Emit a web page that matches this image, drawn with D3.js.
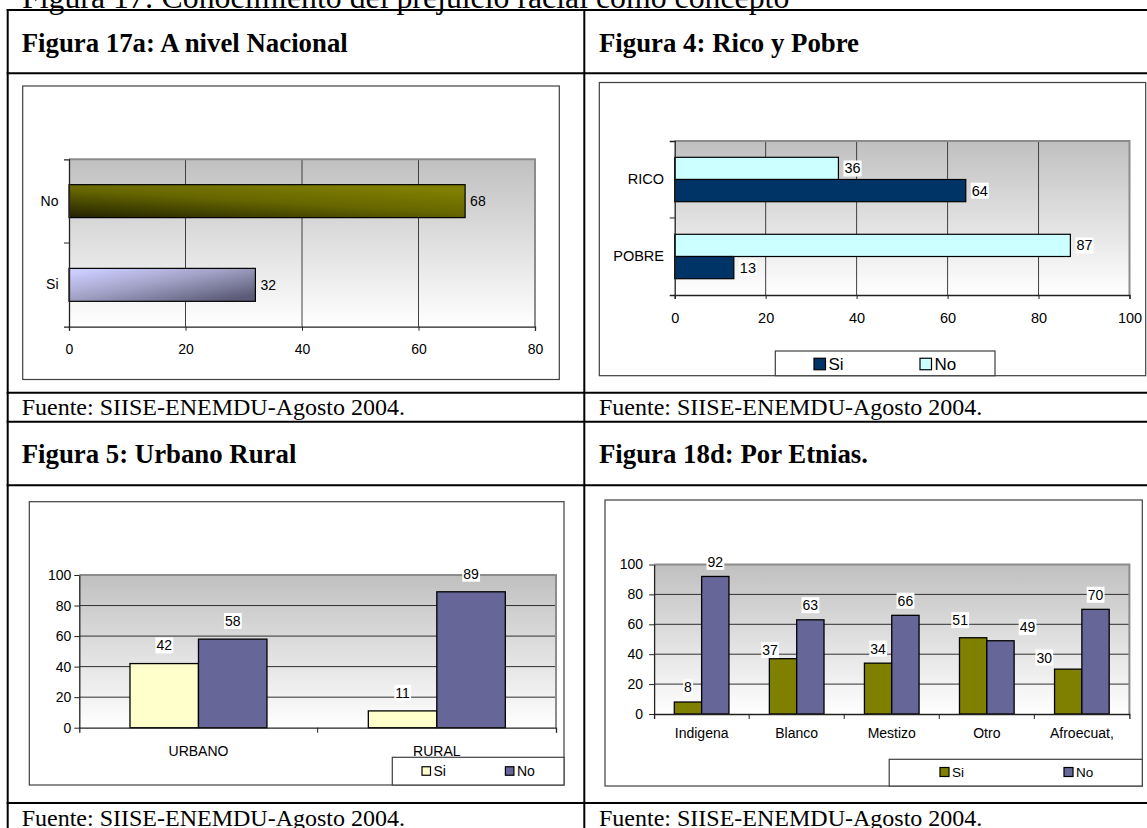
<!DOCTYPE html>
<html>
<head>
<meta charset="utf-8">
<script src="https://cdn.jsdelivr.net/npm/d3@7"></script>
<style>
  body { margin: 0; background: #fff; }
  svg { display: block; }
</style>
</head>
<body>
<svg id="page" width="1147" height="828"></svg>
<script>
// Data ----------------------------------------
const pageTitle = "Figura 17: Conocimiento del prejuicio racial como concepto";
const panelTitles = ["Figura 17a: A nivel Nacional", "Figura 4: Rico y Pobre", "Figura 5: Urbano Rural", "Figura 18d: Por Etnias."];
const sourceNote = "Fuente: SIISE-ENEMDU-Agosto 2004.";
const seriesNames = ["Si", "No"];

// Figura 17a
const nacionalCats = ["No", "Si"];
const nacionalVals = [68, 32];
const nacionalTicks = [0, 20, 40, 60, 80];

// Figura 4
const ricoCats = ["RICO", "POBRE"];
const ricoSi = [64, 13];
const ricoNo = [36, 87];

// Figura 5
const areaCats = ["URBANO", "RURAL"];
const areaSi = [42, 11];
const areaNo = [58, 89];

// Figura 18d
const etniaCats = ["Indigena", "Blanco", "Mestizo", "Otro", "Afroecuat,"];
const etniaSi = [8, 37, 34, 51, 30];
const etniaNo = [92, 63, 66, 49, 70];

const pctTicks = [0, 20, 40, 60, 80, 100];

const SANS = "'Liberation Sans', Arial, sans-serif";
const SERIF = "'Liberation Serif', 'Times New Roman', serif";

const svg = d3.select("#page");
svg.append("rect").attr("width", 1147).attr("height", 828).attr("fill", "#fff");

// Gradients ----------------------------------------
const defs = svg.append("defs");
function gradient(id, x1, y1, x2, y2, stops) {
    const gr = defs.append("linearGradient").attr("id", id)
        .attr("x1", x1).attr("y1", y1).attr("x2", x2).attr("y2", y2);
    stops.forEach(s => gr.append("stop").attr("offset", s[0]).attr("stop-color", s[1]));
}
gradient("plotBg", 0, 0, 0, 1, [[0, "#c0c0c0"], [1, "#ffffff"]]);
gradient("gradNo", 0, 1, 0.75, 0, [[0, "#222200"], [0.55, "#666600"], [1, "#808000"]]);
gradient("gradSi", 0.15, 0, 1, 0.8, [[0, "#ccccff"], [0.45, "#a2a2c6"], [1, "#5c5c78"]]);

// Table ----------------------------------------
const hLines = [10, 73.3, 392.7, 421.7, 485.3, 803];
const vLines = [7.7, 584.3];
hLines.forEach(y => {
    svg.append("line").attr("x1", 6.7).attr("x2", 1150).attr("y1", y).attr("y2", y)
        .attr("stroke", "#000").attr("stroke-width", 2);
});
vLines.forEach(x => {
    svg.append("line").attr("x1", x).attr("x2", x).attr("y1", 9).attr("y2", 830)
        .attr("stroke", "#000").attr("stroke-width", 2);
});

svg.append("text").attr("x", 22).attr("y", 7.5).text(pageTitle)
    .attr("font-family", SERIF).attr("font-size", "31.8px");

const colX = [21.7, 599];
[[52.3, 0], [463, 2]].forEach(([y, k]) => {
    colX.forEach((x, j) => {
        svg.append("text").attr("x", x).attr("y", y).text(panelTitles[k + j])
            .attr("font-family", SERIF).attr("font-size", "26.8px").attr("font-weight", "bold");
    });
});
[415, 825.5].forEach(y => {
    colX.forEach(x => {
        svg.append("text").attr("x", x).attr("y", y).text(sourceNote)
            .attr("font-family", SERIF).attr("font-size", "24px");
    });
});

// Helpers ----------------------------------------
function frame(box) {
    svg.append("rect").attr("x", box[0]).attr("y", box[1])
        .attr("width", box[2] - box[0]).attr("height", box[3] - box[1])
        .attr("fill", "#fff").attr("stroke", "#404040").attr("stroke-width", 1.2);
}

function plotBack(g, x0, x1, y0, y1) {
    g.append("rect").attr("x", x0).attr("y", y0).attr("width", x1 - x0).attr("height", y1 - y0)
        .attr("fill", "url(#plotBg)");
}

function styleAxis(sel, fs) {
    sel.attr("font-size", null).attr("font-family", null);
    sel.selectAll("text").attr("font-size", fs + "px").attr("font-family", SANS).attr("fill", "#000");
    sel.select(".domain").attr("stroke", "#222").attr("stroke-width", 1.3);
    sel.selectAll(".tick line").attr("stroke", "#222");
}

function valueLabel(g, x, y, txt, fs, anchor, boxed) {
    const t = g.append("text").attr("x", x).attr("y", y).attr("dy", "0.35em")
        .attr("text-anchor", anchor).attr("font-family", SANS).attr("font-size", fs + "px").text(txt);
    if (boxed) {
        const b = t.node().getBBox();
        g.insert("rect", () => t.node()).attr("x", b.x - 1).attr("y", b.y)
            .attr("width", b.width + 2).attr("height", b.height).attr("fill", "#fff");
    }
}

function legend(box, items, fs, sq, cy) {
    svg.append("rect").attr("x", box[0]).attr("y", box[1])
        .attr("width", box[2] - box[0]).attr("height", box[3] - box[1])
        .attr("fill", "#fff").attr("stroke", "#404040").attr("stroke-width", 1.2);
    items.forEach(it => {
        svg.append("rect").attr("x", it.x).attr("y", cy - sq / 2).attr("width", sq).attr("height", sq)
            .attr("fill", it.fill).attr("stroke", "#000").attr("stroke-width", 1.2);
        svg.append("text").attr("x", it.x + sq + 3).attr("y", cy).attr("dy", "0.35em")
            .attr("font-family", SANS).attr("font-size", fs + "px").text(it.name);
    });
}

// Horizontal bar chart ----------------------------------------
function drawHBars(cfg) {
    frame(cfg.box);
    const g = svg.append("g");
    const [px0, px1, py0, py1] = cfg.plot;
    const maxT = d3.max(cfg.ticks);
    const x = d3.scaleLinear().domain([0, maxT]).range([px0, px1]);
    const y = d3.scaleBand().domain(cfg.cats).range([py0, py1]);
    const sub = d3.scaleBand().domain(cfg.series.map(s => s.name)).range([0, y.bandwidth()]).paddingOuter(cfg.outer);

    plotBack(g, px0, px1, py0, py1);
    g.selectAll(null).data(cfg.ticks.filter(t => t > 0 && t < maxT)).enter().append("line")
        .attr("x1", d => x(d)).attr("x2", d => x(d)).attr("y1", py0).attr("y2", py1)
        .attr("stroke", "#404040");
    g.append("path").attr("d", `M${px0},${py0}H${px1}V${py1}`)
        .attr("fill", "none").attr("stroke", "#8c8c8c").attr("stroke-width", 2);

    cfg.series.forEach(s => {
        g.selectAll(null).data(cfg.cats.map((c, i) => ({ cat: c, v: s.values[i] }))).enter().append("rect")
            .attr("x", x(0)).attr("y", d => y(d.cat) + sub(s.name))
            .attr("width", d => x(d.v) - x(0)).attr("height", sub.bandwidth())
            .attr("fill", d => s.fill(d.cat)).attr("stroke", "#000").attr("stroke-width", 1.2);
    });

    const xa = g.append("g").attr("transform", `translate(0,${py1})`)
        .call(d3.axisBottom(x).tickValues(cfg.ticks).tickSize(4).tickSizeOuter(4).tickPadding(cfg.xPad));
    const ya = g.append("g").attr("transform", `translate(${px0},0)`)
        .call(d3.axisLeft(y).tickSize(0).tickSizeOuter(5).tickPadding(cfg.yPad));
    styleAxis(xa, cfg.fs);
    styleAxis(ya, cfg.fs);
    g.selectAll(null).data(cfg.cats.slice(1)).enter().append("line")
        .attr("x1", px0 - 5).attr("x2", px0).attr("y1", d => y(d)).attr("y2", d => y(d))
        .attr("stroke", "#222");

    cfg.series.forEach(s => {
        cfg.cats.forEach((c, i) => {
            valueLabel(g, x(s.values[i]) + cfg.labelGap, y(c) + sub(s.name) + sub.bandwidth() / 2,
                s.values[i], cfg.fs, "start", cfg.boxed);
        });
    });
}

// Vertical bar chart ----------------------------------------
function drawVBars(cfg) {
    frame(cfg.box);
    const g = svg.append("g");
    const [px0, px1, py0, py1] = cfg.plot;
    const x = d3.scaleBand().domain(cfg.cats).range([px0, px1]);
    const sub = d3.scaleBand().domain(seriesNames).range([0, x.bandwidth()]).paddingOuter(0.74);
    const y = d3.scaleLinear().domain([0, 100]).range([py1, py0]);

    plotBack(g, px0, px1, py0, py1);
    g.selectAll(null).data(pctTicks.filter(t => t > 0 && t < 100)).enter().append("line")
        .attr("x1", px0).attr("x2", px1).attr("y1", d => y(d)).attr("y2", d => y(d))
        .attr("stroke", "#303030");
    g.append("path").attr("d", `M${px0},${py0}H${px1}V${py1}`)
        .attr("fill", "none").attr("stroke", "#8c8c8c").attr("stroke-width", 2);

    cfg.series.forEach(s => {
        g.selectAll(null).data(cfg.cats.map((c, i) => ({ cat: c, v: s.values[i] }))).enter().append("rect")
            .attr("x", d => x(d.cat) + sub(s.name)).attr("y", d => y(d.v))
            .attr("width", sub.bandwidth()).attr("height", d => y(0) - y(d.v))
            .attr("fill", s.fill).attr("stroke", "#000").attr("stroke-width", 1.3);
    });

    const ya = g.append("g").attr("transform", `translate(${px0},0)`)
        .call(d3.axisLeft(y).tickValues(pctTicks).tickSize(5).tickSizeOuter(0).tickPadding(cfg.yPad));
    const xa = g.append("g").attr("transform", `translate(0,${py1})`)
        .call(d3.axisBottom(x).tickSize(0).tickSizeOuter(5).tickPadding(cfg.xPad));
    styleAxis(ya, cfg.fs);
    styleAxis(xa, cfg.fs);
    g.selectAll(null).data(cfg.cats.slice(1)).enter().append("line")
        .attr("x1", d => x(d)).attr("x2", d => x(d)).attr("y1", py1).attr("y2", py1 + 5)
        .attr("stroke", "#222");

    cfg.series.forEach(s => {
        cfg.cats.forEach((c, i) => {
            const n = (cfg.nudge && cfg.nudge[c + "|" + s.name]) || [0, 0];
            valueLabel(g, x(c) + sub(s.name) + sub.bandwidth() / 2 + n[0], y(s.values[i]) - cfg.lift + n[1],
                s.values[i], cfg.fs, "middle", true);
        });
    });
}

// Figura 17a ----------------------------------------
drawHBars({
    box: [22.7, 86, 559.3, 379.5],
    plot: [69, 535, 159.3, 326.7],
    ticks: nacionalTicks,
    cats: nacionalCats,
    series: [{ name: "valor", values: nacionalVals, fill: c => c === "No" ? "url(#gradNo)" : "url(#gradSi)" }],
    outer: 0.77, fs: 14, xPad: 13.4, yPad: 10.5, labelGap: 5, boxed: false
});

// Figura 4 ----------------------------------------
drawHBars({
    box: [599.3, 82.5, 1145.7, 375.7],
    plot: [674.7, 1129.5, 141, 295],
    ticks: pctTicks,
    cats: ricoCats,
    series: [
        { name: "No", values: ricoNo, fill: () => "#ccffff" },
        { name: "Si", values: ricoSi, fill: () => "#003366" }
    ],
    outer: 0.734, fs: 14.5, xPad: 13.5, yPad: 10.7, labelGap: 6, boxed: true
});
legend([775.3, 351, 995, 375.7], [{ name: "Si", x: 814, fill: "#003366" }, { name: "No", x: 920, fill: "#ccffff" }], 17, 11.5, 364);

// Figura 5 ----------------------------------------
drawVBars({
    box: [29.3, 501.7, 564, 785],
    plot: [79.3, 556, 575, 727.7],
    cats: areaCats,
    series: [{ name: "Si", values: areaSi, fill: "#ffffcc" }, { name: "No", values: areaNo, fill: "#666699" }],
    fs: 14, yPad: 3, xPad: 18.4, lift: 18
});
legend([392.3, 757.3, 564, 785], [{ name: "Si", x: 422, fill: "#ffffcc" }, { name: "No", x: 505.4, fill: "#666699" }], 14, 8.5, 771);

// Figura 18d ----------------------------------------
const etniaNudge = { "Blanco|Si": [-13, 6], "Otro|Si": [-13, -3], "Otro|No": [27, 1], "Afroecuat,|Si": [-24, 3] };
drawVBars({
    box: [605, 500, 1142.3, 786],
    plot: [654.1, 1129.4, 564.5, 714],
    cats: etniaCats,
    series: [{ name: "Si", values: etniaSi, fill: "#808000" }, { name: "No", values: etniaNo, fill: "#666699" }],
    fs: 14, yPad: 6, xPad: 13.8, lift: 14.5, nudge: etniaNudge
});
legend([889.2, 759.3, 1142.3, 786], [{ name: "Si", x: 940, fill: "#808000" }, { name: "No", x: 1064, fill: "#666699" }], 13.5, 9, 772);
</script>
</body>
</html>
